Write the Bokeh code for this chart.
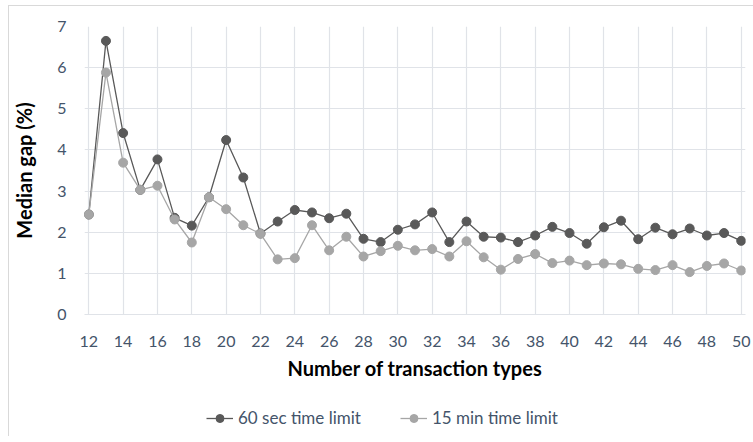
from bokeh.plotting import figure
from bokeh.layouts import column
from bokeh.models import Range1d, Legend, LegendItem, FixedTicker
from bokeh.embed import file_html
from bokeh.resources import INLINE

n_types = list(range(12, 51))
sec60 = [2.43, 6.65, 4.41, 3.03, 3.77, 2.35, 2.16, 2.85, 4.24, 3.33, 1.97,
         2.26, 2.54, 2.48, 2.34, 2.45, 1.84, 1.76, 2.06, 2.19, 2.48, 1.76,
         2.26, 1.89, 1.87, 1.76, 1.92, 2.13, 1.98, 1.72, 2.12, 2.28, 1.83,
         2.11, 1.95, 2.09, 1.92, 1.98, 1.79]
min15 = [2.43, 5.88, 3.69, 3.03, 3.13, 2.31, 1.75, 2.85, 2.56, 2.17, 1.96,
         1.34, 1.37, 2.17, 1.56, 1.89, 1.41, 1.54, 1.67, 1.56, 1.59, 1.41,
         1.78, 1.39, 1.09, 1.35, 1.47, 1.25, 1.31, 1.20, 1.24, 1.22, 1.11,
         1.08, 1.20, 1.03, 1.18, 1.24, 1.07]
series_names = ["60 sec time limit", "15 min time limit"]
x_ticks = list(range(12, 51, 2))
y_ticks = list(range(0, 8))
# hidden key-only renderers for the legend strip (outside its visible range)
key_x = [-5]
key_y = [-5]

FONT = "Lato"
TICK_COLOR = "#44546A"
GRID = "#e0e3e8"
DARK = "#595959"
LIGHT = "#a6a6a6"

p = figure(frame_width=661, frame_height=288, output_backend="svg",
           toolbar_location=None,
           x_range=Range1d(11.75, 50.25), y_range=Range1d(0, 7),
           min_border_left=75, min_border_right=8, min_border_top=20,
           min_border_bottom=80)
p.outline_line_color = None

p.xaxis.ticker = FixedTicker(ticks=x_ticks)
p.yaxis.ticker = FixedTicker(ticks=y_ticks)
p.xgrid.ticker = FixedTicker(ticks=x_ticks)
p.ygrid.ticker = FixedTicker(ticks=y_ticks)
p.xgrid.grid_line_color = GRID
p.ygrid.grid_line_color = GRID
p.xgrid.grid_line_width = 1.2
p.ygrid.grid_line_width = 1.2

for ax in (p.xaxis, p.yaxis):
    ax.major_tick_line_color = None
    ax.minor_tick_line_color = None
    ax.major_label_text_font = FONT
    ax.major_label_text_font_size = "16px"
    ax.major_label_text_color = TICK_COLOR
    ax.axis_label_text_font = FONT
    ax.axis_label_text_font_size = "20px"
    ax.axis_label_text_font_style = "bold"
    ax.axis_label_text_color = "#000000"

p.xaxis.axis_line_color = GRID
p.xaxis.axis_line_width = 1.2
p.yaxis.axis_line_color = None
p.xaxis.axis_label = "Number of transaction types"
p.yaxis.axis_label = "Median gap (%)"
p.xaxis.major_label_standoff = 15
p.xaxis.axis_label_standoff = 6
p.yaxis.major_label_standoff = 12
p.yaxis.axis_label_standoff = 18

p.line(n_types, sec60, line_color=DARK, line_width=1.3)
p.scatter(n_types, sec60, size=9, fill_color=DARK, line_color=DARK)
p.line(n_types, min15, line_color=LIGHT, line_width=1.3)
p.scatter(n_types, min15, size=9, fill_color=LIGHT, line_color=LIGHT)

# legend strip below the chart
lg = figure(width=744, height=42, output_backend="svg", toolbar_location=None,
            x_axis_type=None, y_axis_type=None,
            x_range=Range1d(0, 1), y_range=Range1d(0, 1),
            min_border_left=0, min_border_right=0, min_border_top=0,
            min_border_bottom=0)
lg.outline_line_color = None
lg.xgrid.visible = False
lg.ygrid.visible = False
k1 = lg.line(x=key_x, y=key_y, line_color=DARK, line_width=1.3)
k1s = lg.scatter(x=key_x, y=key_y, size=7, fill_color=DARK, line_color=DARK)
k2 = lg.line(x=key_x, y=key_y, line_color=LIGHT, line_width=1.3)
k2s = lg.scatter(x=key_x, y=key_y, size=7, fill_color=LIGHT, line_color=LIGHT)
legend = Legend(items=[LegendItem(label=series_names[0], renderers=[k1, k1s]),
                       LegendItem(label=series_names[1], renderers=[k2, k2s])],
                orientation="horizontal", location=(122, 8),
                label_text_font=FONT, label_text_font_size="17px",
                label_text_color=TICK_COLOR, border_line_color=None,
                background_fill_alpha=0, glyph_width=27, spacing=39,
                label_standoff=5, margin=0, padding=0)
lg.add_layout(legend, "center")

layout = column(p, lg, spacing=0)
layout.styles = {"margin-left": "8px", "margin-top": "5px",
                 "border-left": "1px solid #d9d9d9", "border-top": "1px solid #d9d9d9"}

open("out.html", "w").write(file_html(layout, INLINE))
